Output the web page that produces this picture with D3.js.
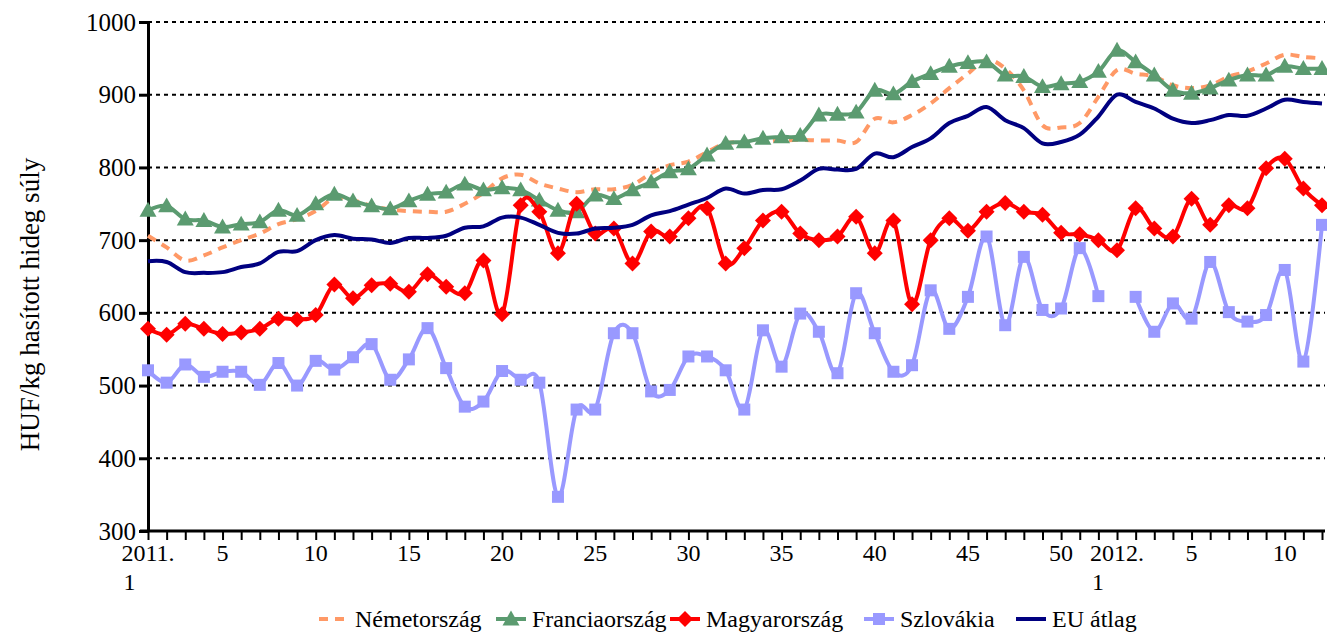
<!DOCTYPE html>
<html><head><meta charset="utf-8">
<script src="https://cdn.jsdelivr.net/npm/d3@7"></script>
<style>
body{margin:0;background:#fff;}
svg text{font-family:"Liberation Serif","Times New Roman",serif !important;fill:#000;}
</style>
</head><body>
<svg id="c" width="1327" height="634"></svg>
<script>
// ---- data ----
const categories = [
  "2011. 1","2","3","4","5","6","7","8","9","10","11","12","13","14","15","16","17","18","19","20",
  "21","22","23","24","25","26","27","28","29","30","31","32","33","34","35","36","37","38","39","40",
  "41","42","43","44","45","46","47","48","49","50","51","52",
  "2012. 1","2","3","4","5","6","7","8","9","10","11","12"
];
const nemetorszag = [706,690,672,679,690,700,709,722,729,740,758,755,747,742,740,739,739,750,765,785,
  790,778,771,766,770,770,776,792,803,808,821,833,835,836,837,838,837,837,835,867,
  862,872,888,909,929,948,936,906,858,855,861,897,934,929,925,913,909,913,925,932,943,955,952,950];
const franciaorszag = [741,747,729,727,718,722,725,741,734,750,763,754,747,743,754,763,766,777,769,772,
  769,755,741,739,762,757,769,780,794,798,817,833,835,840,842,844,872,873,876,906,
  901,918,929,939,944,945,927,925,911,915,918,932,961,945,927,906,902,909,920,927,927,939,936,936];
const magyarorszag = [578,570,585,578,571,573,578,592,591,597,639,620,638,640,629,653,636,627,672,598,
  748,739,682,750,709,716,668,712,705,730,744,668,689,727,739,709,700,705,732,682,
  727,612,700,730,713,739,751,739,735,710,708,700,686,744,716,705,757,721,748,744,799,812,771,748];
const szlovakia = [521,504,529,512,519,519,501,531,500,534,522,539,557,508,536,579,524,471,478,520,
  508,504,347,467,467,572,572,492,494,540,540,521,467,576,526,599,574,517,627,572,
  519,528,631,578,622,705,583,677,604,606,689,623,null,622,574,613,592,670,601,588,597,659,533,721];
const euAtlag = [671,670,656,655,656,663,668,684,685,700,707,702,701,696,703,703,706,717,719,731,
  731,721,710,709,716,717,721,734,740,749,758,771,764,769,770,782,798,797,798,819,
  814,828,840,861,871,883,865,854,833,835,845,870,900,890,881,867,861,865,872,871,881,893,890,888];
const yTicks = [300,400,500,600,700,800,900,1000];
const xTickLabels = {0:["2011.","1"],4:["5"],9:["10"],14:["15"],19:["20"],24:["25"],29:["30"],34:["35"],
  39:["40"],44:["45"],49:["50"],52:["2012.","1"],56:["5"],61:["10"]};
const yTitle = "HUF/kg hasított hideg súly";
const seriesNames = ["Németország","Franciaország","Magyarország","Szlovákia","EU átlag"];

const series = [
  {name:seriesNames[0], values:nemetorszag, color:"#ff9966", dash:"9,7", marker:null},
  {name:seriesNames[1], values:franciaorszag, color:"#5b9b70", dash:null, marker:"triangle"},
  {name:seriesNames[2], values:magyarorszag, color:"#ff0000", dash:null, marker:"diamond"},
  {name:seriesNames[3], values:szlovakia, color:"#9999ff", dash:null, marker:"square"},
  {name:seriesNames[4], values:euAtlag, color:"#000080", dash:null, marker:null}
];

// ---- layout ----
const L = 148, R = 1322, T = 22, B = 531, FS = 24;
const FONT = "Liberation Serif";
const svg = d3.select("#c");
const x = d3.scalePoint().domain(d3.range(categories.length)).range([L, R]);
const y = d3.scaleLinear().domain([300, 1000]).range([B, T]);

// gridlines
svg.append("g").selectAll("line").data(yTicks.filter(v => v > 300)).join("line")
  .attr("x1", L).attr("x2", R + 3).attr("y1", d => y(d)).attr("y2", d => y(d))
  .attr("stroke", "#000").attr("stroke-width", 2).attr("stroke-dasharray", "4,4");

// y axis
const yAxis = svg.append("g").attr("transform", `translate(${L},0)`)
  .call(d3.axisLeft(y).tickValues(yTicks).tickFormat(d3.format("d")).tickSize(9).tickSizeOuter(0).tickPadding(3))
  .attr("font-family", FONT).attr("font-size", FS);
yAxis.select(".domain").attr("stroke", "#000").attr("stroke-width", 3);
yAxis.selectAll(".tick line").attr("stroke", "#000").attr("stroke-width", 3);
yAxis.selectAll(".tick text").style("font-family", FONT).style("font-size", "25px").attr("fill", "#000");

// x axis
const xAxis = svg.append("g").attr("transform", `translate(0,${B})`)
  .call(d3.axisBottom(x).tickSize(9).tickSizeOuter(0).tickFormat(""));
xAxis.select(".domain").attr("stroke", "#000").attr("stroke-width", 3)
  .attr("d", `M${L - 8},0H${R + 3}`);
xAxis.selectAll(".tick line").attr("stroke", "#000").attr("stroke-width", 2);

// x labels
const xl = svg.append("g");
Object.entries(xTickLabels).forEach(([i, lines]) => {
  const cx = x(+i);
  const t = xl.append("text").style("font-size", FS + "px").attr("y", 561);
  t.text(lines[0]);
  const w = t.node().getComputedTextLength();
  const left = cx - w / 2;
  t.attr("x", left);
  if (lines.length > 1) {
    xl.append("text").style("font-size", FS + "px").attr("x", left + 2).attr("y", 590).text(lines[1]);
  }
});

// y title
svg.append("text").style("font-size", "27px")
  .attr("transform", `translate(39,${(T + B) / 2 + 28}) rotate(-90)`)
  .attr("text-anchor", "middle").text(yTitle);

// lines
const line = d3.line().defined(d => d != null).x((d, i) => x(i)).y(d => y(d))
  .curve(d3.curveCardinal.tension(0));
const markerPath = (type, cx, cy) => {
  if (type === "triangle") { const s = 8.5; return `M${cx},${cy - s}L${cx + s},${cy + s * 0.75}L${cx - s},${cy + s * 0.75}Z`; }
  if (type === "diamond") { const s = 8; return `M${cx},${cy - s}L${cx + s},${cy}L${cx},${cy + s}L${cx - s},${cy}Z`; }
  if (type === "square") { const s = 6; return `M${cx - s},${cy - s}H${cx + s}V${cy + s}H${cx - s}Z`; }
  return "";
};
const plot = svg.append("g");
series.forEach(s => {
  plot.append("path").datum(s.values).attr("d", line).attr("fill", "none")
    .attr("stroke", s.color).attr("stroke-width", 4)
    .attr("stroke-dasharray", s.dash).attr("stroke-linejoin", "round");
  if (s.marker) {
    plot.append("g").selectAll("path").data(s.values.map((v, i) => [i, v]).filter(d => d[1] != null))
      .join("path").attr("d", d => markerPath(s.marker, x(d[0]), y(d[1])))
      .attr("fill", s.color);
  }
});

// legend
const lg = svg.append("g");
const legendTextX = [355, 532, 706, 900, 1052];
const ly = 619;
series.forEach((s, k) => {
  const tx = legendTextX[k], lx = tx - 36;
  lg.append("line").attr("x1", lx).attr("x2", lx + 30).attr("y1", ly).attr("y2", ly)
    .attr("stroke", s.color).attr("stroke-width", 4).attr("stroke-dasharray", s.dash);
  if (s.marker) lg.append("path").attr("d", markerPath(s.marker, lx + 15, ly)).attr("fill", s.color);
  lg.append("text").style("font-size", "24px").attr("x", tx).attr("y", ly + 8).text(s.name);
});
</script>
</body></html>
